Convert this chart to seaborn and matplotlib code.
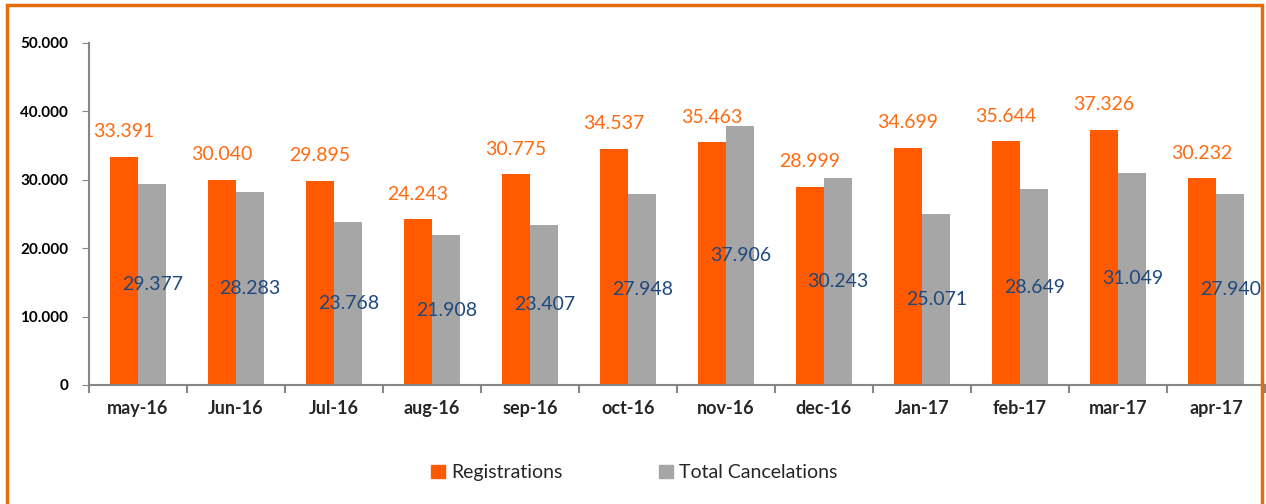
import pandas as pd
import matplotlib.pyplot as plt
import seaborn as sns
from matplotlib.patches import Rectangle, Patch
from matplotlib.ticker import FuncFormatter, FixedLocator

# Data
months = ["may-16", "Jun-16", "Jul-16", "aug-16", "sep-16", "oct-16",
          "nov-16", "dec-16", "Jan-17", "feb-17", "mar-17", "apr-17"]
registrations = [33391, 30040, 29895, 24243, 30775, 34537,
                 35463, 28999, 34699, 35644, 37326, 30232]
cancelations = [29377, 28283, 23768, 21908, 23407, 27948,
                37906, 30243, 25071, 28649, 31049, 27940]

series = ["Registrations", "Total Cancelations"]
colors = {"Registrations": "#FF5A00", "Total Cancelations": "#A6A6A6"}

df = pd.DataFrame({
    "Month": months * 2,
    "Value": registrations + cancelations,
    "Series": [series[0]] * len(months) + [series[1]] * len(months),
})

sns.set_style("white")
plt.rcParams["font.family"] = ["Lato", "DejaVu Sans"]

fig = plt.figure(figsize=(12.66, 5.04), dpi=100)
ax = fig.add_axes([89 / 1266, 1 - 385 / 504, 1176 / 1266, 342 / 504])

sns.barplot(data=df, x="Month", y="Value", hue="Series", palette=colors,
            width=0.58, saturation=1, linewidth=0, ax=ax, legend=False)

fmt = lambda v: f"{int(round(v)):,}".replace(",", ".")

# value labels: registrations above the bar, cancelations in the middle
reg_bars, can_bars = ax.containers[0], ax.containers[1]
ax.bar_label(reg_bars, fmt=fmt, padding=12, color="#FF6A10", fontsize=14)
ax.bar_label(can_bars, fmt=fmt, label_type="center", color="#1F497D",
             fontsize=14)

ax.set_ylim(0, 50000)
ax.set_xlim(-0.5, len(months) - 0.5)
ax.set_yticks(range(0, 50001, 10000))
ax.yaxis.set_major_formatter(FuncFormatter(lambda v, p: fmt(v)))
ax.set_xlabel("")
ax.set_ylabel("")

for s in ["top", "right"]:
    ax.spines[s].set_visible(False)
for s in ["left", "bottom"]:
    ax.spines[s].set_color("#868686")
    ax.spines[s].set_linewidth(1.5)

ax.tick_params(axis="y", which="major", left=True, length=5, color="#868686",
               labelsize=11, labelcolor="black", pad=10)
for lab in ax.get_yticklabels():
    lab.set_fontweight("bold")
ax.tick_params(axis="x", which="major", length=0, labelsize=13,
               labelcolor="#262626", pad=11)
for lab in ax.get_xticklabels():
    lab.set_fontweight("bold")
ax.xaxis.set_minor_locator(FixedLocator([i - 0.5 for i in range(len(months) + 1)]))
ax.tick_params(axis="x", which="minor", bottom=True, length=6, width=1.5,
               color="#868686")

handles = [Patch(color=colors[s], label=s) for s in series]
fig.legend(handles=handles, loc="center", bbox_to_anchor=(0.501, 0.062),
           ncol=2, frameon=False, fontsize=14, handlelength=0.7,
           handleheight=0.7, handletextpad=0.3, columnspacing=5.0)

# orange frame around the chart
fig.patches.append(Rectangle((7 / 1266, -0.05), 1255 / 1266, 1.05 - 5 / 504,
                             transform=fig.transFigure, fill=False,
                             edgecolor="#E46C0A", linewidth=2.5))

fig.savefig("out.png", dpi=100)
